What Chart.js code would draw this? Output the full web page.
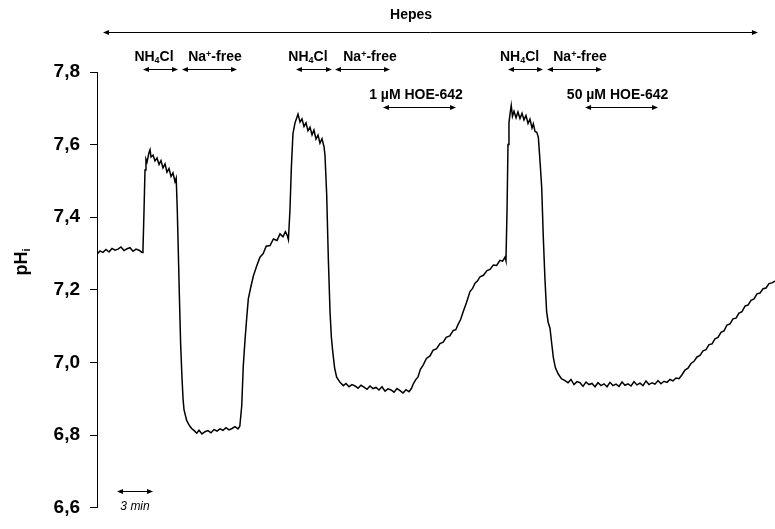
<!DOCTYPE html>
<html>
<head>
<meta charset="utf-8">
<script src="https://cdn.jsdelivr.net/npm/chart.js@4"></script>
<style>
  html, body { margin: 0; padding: 0; background: #fff; }
  #wrap { width: 775px; height: 529px; position: relative; }
</style>
</head>
<body>
<div id="wrap"><canvas id="chart" width="775" height="529"></canvas></div>
<script>
// recording time (min) and intracellular pH
const timeMin = [
  0.00, 0.25, 0.50, 0.75, 1.00, 1.25, 1.50, 1.75, 2.00, 2.25, 2.50, 2.75, 3.00, 3.25, 3.50, 3.75, 3.83,
  3.92, 4.00, 4.08, 4.17, 4.33, 4.42, 4.50, 4.67, 4.83, 5.00, 5.17, 5.33, 5.50, 5.67, 5.83, 6.00, 6.17, 6.33, 6.50, 6.60,
  6.69, 6.78, 6.86, 6.97, 7.08, 7.17, 7.25, 7.47, 7.70, 7.89, 8.10, 8.31,
  8.50, 8.75, 9.00, 9.25, 9.50, 9.75, 10.00, 10.25, 10.50, 10.75, 11.00, 11.25, 11.50, 11.75, 11.90,
  12.06, 12.19, 12.33, 12.47, 12.61, 12.80, 13.03, 13.30, 13.58, 13.85, 14.10, 14.42, 14.70, 15.00, 15.25, 15.50, 15.70, 15.85, 15.95,
  16.08, 16.20, 16.33, 16.50, 16.67, 16.75, 16.92, 17.08, 17.25, 17.42, 17.58, 17.75, 17.92, 18.08, 18.25, 18.42, 18.58, 18.75, 18.92, 19.00,
  19.14, 19.28, 19.42, 19.53, 19.64, 19.80, 19.97, 20.25, 20.53,
  20.75, 21.00, 21.25, 21.50, 21.75, 22.00, 22.25, 22.50, 22.75, 23.00, 23.25, 23.50, 23.75, 24.00, 24.25, 24.50, 24.75, 25.00, 25.25, 25.50, 25.75, 26.00, 26.20,
  26.36, 26.55, 26.75, 26.95, 27.19, 27.45, 27.75, 28.00, 28.30, 28.58, 28.85, 29.10, 29.40, 29.69, 29.90, 30.08, 30.30, 30.53, 30.80, 31.08,
  31.30, 31.50, 31.70, 31.92, 32.20, 32.50, 32.75, 33.03, 33.30, 33.58, 33.80, 34.00, 34.08,
  34.17, 34.25, 34.33, 34.42, 34.52, 34.62, 34.75, 34.92, 35.08, 35.25, 35.42, 35.58, 35.75, 35.92, 36.08, 36.25, 36.36, 36.50, 36.65, 36.78,
  36.92, 37.06, 37.19, 37.33, 37.47, 37.60, 37.75, 37.90, 38.03, 38.20, 38.44, 38.70, 39.00,
  39.25, 39.50, 39.75, 40.00, 40.25, 40.50, 40.75, 41.00, 41.25, 41.50, 41.75, 42.00, 42.25, 42.50, 42.75, 43.00, 43.25, 43.50, 43.75,
  44.00, 44.25, 44.50, 44.75, 45.00, 45.25, 45.50, 45.75, 46.00, 46.25, 46.50, 46.75, 47.00, 47.25, 47.50, 47.75, 48.00, 48.25, 48.50,
  48.75, 49.00, 49.25, 49.50, 49.75, 50.00, 50.25, 50.50, 50.75, 51.00, 51.25, 51.50, 51.75, 52.00, 52.25, 52.50, 52.75, 53.00,
  53.25, 53.50, 53.75, 54.00, 54.25, 54.50, 54.75, 55.00, 55.25, 55.50, 55.75, 56.00, 56.25, 56.50
];
const pHi = [
  7.298, 7.307, 7.303, 7.311, 7.304, 7.314, 7.309, 7.312, 7.318, 7.308, 7.313, 7.316, 7.306, 7.312, 7.309, 7.303, 7.308,
  7.420, 7.530, 7.560, 7.552, 7.578, 7.586, 7.566, 7.571, 7.555, 7.563, 7.545, 7.556, 7.536, 7.547, 7.524, 7.534, 7.512, 7.522, 7.498, 7.508,
  7.420, 7.300, 7.190, 7.050, 6.960, 6.900, 6.870, 6.840, 6.826, 6.818, 6.812, 6.805,
  6.813, 6.803, 6.809, 6.812, 6.806, 6.815, 6.811, 6.817, 6.813, 6.820, 6.814, 6.818, 6.823, 6.817, 6.824,
  6.880, 6.990, 7.060, 7.120, 7.175, 7.205, 7.238, 7.265, 7.290, 7.300, 7.320, 7.322, 7.340, 7.336, 7.354, 7.346, 7.360, 7.350, 7.338,
  7.420, 7.540, 7.630, 7.660, 7.676, 7.684, 7.662, 7.671, 7.650, 7.660, 7.638, 7.648, 7.627, 7.640, 7.615, 7.626, 7.604, 7.616, 7.594, 7.570,
  7.463, 7.283, 7.139, 7.070, 7.031, 6.985, 6.959, 6.945, 6.936,
  6.942, 6.933, 6.939, 6.935, 6.929, 6.937, 6.932, 6.926, 6.935, 6.928, 6.931, 6.924, 6.933, 6.921, 6.927, 6.924, 6.918, 6.928, 6.922, 6.916, 6.925, 6.919, 6.928,
  6.941, 6.952, 6.960, 6.981, 6.993, 7.011, 7.018, 7.033, 7.038, 7.052, 7.056, 7.069, 7.073, 7.088, 7.090, 7.104, 7.118, 7.141, 7.166, 7.195,
  7.204, 7.218, 7.224, 7.236, 7.240, 7.253, 7.256, 7.268, 7.267, 7.281, 7.279, 7.290, 7.280,
  7.420, 7.600, 7.660, 7.685, 7.708, 7.678, 7.692, 7.674, 7.690, 7.672, 7.686, 7.668, 7.680, 7.658, 7.670, 7.646, 7.657, 7.636, 7.634, 7.620,
  7.553, 7.481, 7.346, 7.229, 7.139, 7.110, 7.094, 7.050, 7.013, 6.985, 6.968, 6.955, 6.950,
  6.944, 6.953, 6.939, 6.947, 6.944, 6.934, 6.946, 6.939, 6.942, 6.933, 6.944, 6.936, 6.941, 6.933, 6.945, 6.936, 6.940, 6.934, 6.946,
  6.937, 6.941, 6.935, 6.947, 6.938, 6.943, 6.936, 6.949, 6.939, 6.944, 6.940, 6.950, 6.941, 6.948, 6.945, 6.953, 6.949, 6.957, 6.955,
  6.966, 6.979, 6.984, 6.997, 7.003, 7.015, 7.019, 7.032, 7.035, 7.049, 7.051, 7.065, 7.069, 7.083, 7.087, 7.103, 7.106, 7.120,
  7.122, 7.136, 7.140, 7.155, 7.158, 7.171, 7.175, 7.189, 7.191, 7.203, 7.205, 7.217, 7.219, 7.224
];
const yTicks = [6.6, 6.8, 7.0, 7.2, 7.4, 7.6, 7.8];

// protocol bars: label, label centre (min), arrow start/end (min), row
const protocol = [
  { text: 'Hepes', at: 26.17, from: 0.5, to: 55.08, row: 0 },
  { text: 'NH4Cl', at: 4.75, from: 3.83, to: 6.75, row: 1 },
  { text: 'Na+-free', at: 9.83, from: 7.08, to: 11.67, row: 1 },
  { text: 'NH4Cl', at: 17.58, from: 16.58, to: 19.58, row: 1 },
  { text: 'Na+-free', at: 22.75, from: 19.83, to: 24.42, row: 1 },
  { text: '1 µM HOE-642', at: 26.58, from: 23.83, to: 29.92, row: 2 },
  { text: 'NH4Cl', at: 35.21, from: 34.25, to: 37.17, row: 1 },
  { text: 'Na+-free', at: 40.25, from: 37.5, to: 42.08, row: 1 },
  { text: '50 µM HOE-642', at: 43.38, from: 40.67, to: 46.75, row: 2 },
];
const scaleBar = { text: '3 min', from: 1.67, to: 4.67 };

const FONT = '"Liberation Sans", Arial, Helvetica, sans-serif';
// pixel rows: [text y, arrow y]
const ROWS = [[15, 32], [57, 69], [95, 107]];

function arrow(ctx, x1, x2, y) {
  ctx.save();
  ctx.strokeStyle = '#000';
  ctx.fillStyle = '#000';
  ctx.lineWidth = 1;
  ctx.beginPath();
  ctx.moveTo(x1 + 2, y + 0.5);
  ctx.lineTo(x2 - 2, y + 0.5);
  ctx.stroke();
  [[x1, 1], [x2, -1]].forEach(([x, d]) => {
    ctx.beginPath();
    ctx.moveTo(x, y + 0.5);
    ctx.lineTo(x + d * 6, y - 2);
    ctx.lineTo(x + d * 6, y + 3);
    ctx.closePath();
    ctx.fill();
  });
  ctx.restore();
}

// draws text where digits after NH are subscripts and '+' is superscript
function richText(ctx, text, cx, cy, size) {
  const parts = [];
  if (text === 'NH4Cl') {
    parts.push(['NH', 0], ['4', 1], ['Cl', 0]);
  } else if (text === 'Na+-free') {
    parts.push(['Na', 0], ['+', -1], ['-free', 0]);
  } else {
    parts.push([text, 0]);
  }
  const small = Math.round(size * 0.66);
  let w = 0;
  parts.forEach(([s, k]) => {
    ctx.font = 'bold ' + (k ? small : size) + 'px ' + FONT;
    w += ctx.measureText(s).width;
  });
  let x = cx - w / 2;
  ctx.textAlign = 'left';
  ctx.textBaseline = 'middle';
  ctx.fillStyle = '#000';
  parts.forEach(([s, k]) => {
    ctx.font = 'bold ' + (k ? small : size) + 'px ' + FONT;
    const dy = k === 1 ? 4 : (k === -1 ? -2 : 0);
    ctx.fillText(s, x, cy + dy);
    x += ctx.measureText(s).width;
  });
}

const protocolPlugin = {
  id: 'protocol',
  afterDraw(chart) {
    const ctx = chart.ctx;
    const xs = chart.scales.x;
    ctx.save();
    protocol.forEach(p => {
      const [ty, ay] = ROWS[p.row];
      arrow(ctx, xs.getPixelForValue(p.from), xs.getPixelForValue(p.to), ay);
      richText(ctx, p.text, xs.getPixelForValue(p.at), ty, 14);
    });
    // time scale bar
    const b1 = xs.getPixelForValue(scaleBar.from), b2 = xs.getPixelForValue(scaleBar.to);
    arrow(ctx, b1, b2, 491);
    ctx.font = 'italic 12px ' + FONT;
    ctx.textAlign = 'center';
    ctx.textBaseline = 'middle';
    ctx.fillStyle = '#000';
    ctx.fillText(scaleBar.text, (b1 + b2) / 2, 507);
    // y axis title pH with subscript i
    ctx.translate(22, 262);
    ctx.rotate(-Math.PI / 2);
    ctx.font = 'bold 18px ' + FONT;
    const w1 = ctx.measureText('pH').width;
    ctx.font = 'bold 11px ' + FONT;
    const w2 = ctx.measureText('i').width;
    ctx.textAlign = 'left';
    ctx.font = 'bold 18px ' + FONT;
    ctx.fillText('pH', -(w1 + w2) / 2, 0);
    ctx.font = 'bold 11px ' + FONT;
    ctx.fillText('i', -(w1 + w2) / 2 + w1, 5);
    ctx.restore();
  }
};

new Chart(document.getElementById('chart'), {
  type: 'line',
  data: {
    datasets: [{
      data: timeMin.map((t, i) => ({ x: t, y: pHi[i] })),
      borderColor: '#000',
      borderWidth: 1.5,
      pointRadius: 0,
      tension: 0,
      fill: false,
    }]
  },
  options: {
    responsive: false,
    animation: false,
    layout: { padding: { top: 72, bottom: 13, left: 0, right: 0 } },
    plugins: { legend: { display: false }, tooltip: { enabled: false } },
    scales: {
      x: { type: 'linear', display: false, min: 0, max: 56.5 },
      y: {
        min: 6.6,
        max: 7.8,
        afterFit: s => { s.width = 97; },
        afterBuildTicks: s => { s.ticks = yTicks.map(v => ({ value: v })); },
        border: { display: true, color: '#000', width: 1 },
        grid: { drawOnChartArea: false, drawTicks: true, tickLength: 7, tickColor: '#000' },
        ticks: {
          padding: 10,
          color: '#000',
          font: { family: FONT, size: 19, weight: 'bold' },
          callback: v => v.toFixed(1).replace('.', ','),
        },
      },
    },
  },
  plugins: [protocolPlugin],
});
</script>
</body>
</html>
